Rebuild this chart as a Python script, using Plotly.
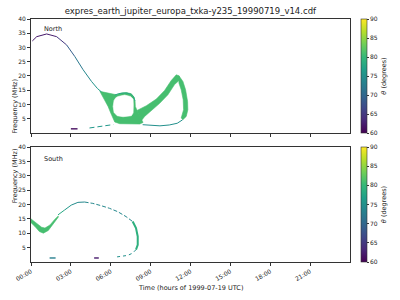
import plotly.graph_objects as go
from plotly.colors import sample_colorscale

# ---------------- text / ticks ----------------
TITLE = "expres_earth_jupiter_europa_txka-y235_19990719_v14.cdf"
X_LABEL = "Time (hours of 1999-07-19 UTC)"
Y_LABEL = "Frequency (MHz)"
CB_LABEL = "<i>θ</i> (degrees)"
x_tick_hours = [0, 3, 6, 9, 12, 15, 18, 21]
x_tick_labels = ["00:00", "03:00", "06:00", "09:00", "12:00", "15:00", "18:00", "21:00"]
y_ticks = [5, 10, 15, 20, 25, 30, 35, 40]
cb_ticks = [60, 65, 70, 75, 80, 85, 90]
THETA_MIN, THETA_MAX = 60, 90

# ---------------- North hemisphere (hours, MHz, theta deg) ----------------
north_arc_t = [0.1, 0.43, 1.18, 1.93, 2.68, 3.3, 3.92, 4.55, 5.0, 5.3]
north_arc_f = [32.3, 33.8, 34.75, 33.8, 30.9, 26.8, 22.2, 18.1, 15.6, 14.4]
north_arc_theta = [62, 62, 62, 63, 67, 71, 73, 75, 76, 77]

north_loop_t = [5.18, 5.93, 6.43, 6.8, 7.18, 7.55, 7.75, 7.83, 7.85, 7.98, 8.05,
                8.43, 8.18, 7.43, 6.68, 6.3, 6.18, 6.0, 5.8, 5.55, 5.3]
north_loop_f = [14.6, 13.76, 13.4, 14.0, 14.2, 13.76, 12.6, 11.1, 9.3, 7.9, 7.2,
                3.7, 3.14, 3.14, 3.25, 3.84, 4.9, 7.0, 9.3, 11.66, 13.76]
north_loop_theta = 81

north_hole_t = [6.55, 7.05, 7.48, 7.68, 7.7, 7.68, 7.55, 6.93, 6.48, 6.25, 6.18, 6.25, 6.38]
north_hole_f = [12.8, 13.3, 12.8, 11.9, 9.9, 7.0, 6.05, 5.7, 6.05, 7.2, 9.3, 11.4, 12.36]

north_rise_t = [7.98, 8.68, 9.43, 10.05, 10.55, 10.93, 11.13,
                11.18, 10.8, 10.3, 9.68, 9.05, 8.55, 8.3]
north_rise_f = [7.9, 9.56, 11.9, 14.9, 18.4, 20.4, 20.06,
                18.6, 17.0, 13.4, 10.4, 7.9, 5.8, 4.3]
north_fall_t = [11.13, 11.43, 11.63, 11.78, 11.8, 11.68, 11.43,
                11.3, 11.48, 11.45, 11.3, 11.13]
north_fall_f = [20.06, 18.1, 15.16, 11.07, 8.16, 5.82, 4.66,
                5.24, 8.16, 11.66, 15.16, 17.5]

north_ring_t = [6.3, 6.6, 6.9, 7.2, 7.5, 7.72, 7.82]
north_ring_f = [13.3, 13.8, 14.0, 14.0, 13.6, 12.7, 11.2]
north_ring_theta = 78

north_floor_left_t = [4.4, 5.0, 5.6, 6.2]
north_floor_left_f = [1.75, 2.1, 2.5, 2.95]
north_floor_left_theta = 76
north_floor_right_t = [8.4, 9.0, 9.7, 10.4, 11.0, 11.4]
north_floor_right_f = [2.9, 2.6, 2.5, 2.8, 3.4, 4.6]
north_floor_right_theta = 75
north_stub_t = [3.0, 3.5]
north_stub_f = [1.45, 1.45]
north_stub_theta = 61

# ---------------- South hemisphere ----------------
south_band_t = [0.0, 0.43, 0.8, 1.05, 1.43, 1.8, 2.05,
                2.05, 1.68, 1.3, 0.93, 0.63, 0.3, 0.0]
south_band_f = [15.0, 13.5, 12.1, 11.8, 12.9, 14.9, 16.0,
                15.6, 13.5, 10.96, 10.04, 10.6, 12.35, 13.7]
south_band_theta = 81

south_rise_t = [2.03, 2.53, 3.03, 3.53, 4.03]
south_rise_f = [16.4, 18.1, 19.8, 20.75, 20.87]
south_rise_theta = [79, 77, 75, 74, 74]
south_top_t = [4.03, 4.65, 5.28, 5.9, 6.53, 7.15, 7.65]
south_top_f = [20.87, 20.4, 19.6, 18.7, 17.5, 15.8, 14.07]
south_top_theta = 74
south_side_t = [7.65, 7.9, 8.03, 8.03, 7.9]
south_side_f = [14.07, 11.8, 8.9, 6.0, 4.3]
south_side_theta = 79
south_foot_t = [7.9, 7.65, 7.28, 6.9, 6.35]
south_foot_f = [4.3, 3.1, 2.3, 1.95, 1.7]
south_foot_theta = 75
south_stub1_t = [1.4, 1.85]
south_stub1_f = [1.4, 1.4]
south_stub1_theta = 73
south_stub2_t = [4.75, 5.1]
south_stub2_f = [1.4, 1.4]
south_stub2_theta = 62


def col(theta):
    return sample_colorscale("Viridis", [(theta - THETA_MIN) / (THETA_MAX - THETA_MIN)])[0]


fig = go.Figure()


def poly(t, f, color, ax):
    fig.add_trace(go.Scatter(x=t + t[:1], y=f + f[:1], mode="lines", fill="toself",
                             fillcolor=color, line=dict(color=color, width=0.6),
                             hoverinfo="skip", showlegend=False, xaxis="x" + ax, yaxis="y" + ax))


def line(t, f, color, ax, width=1.0, dash="solid"):
    fig.add_trace(go.Scatter(x=t, y=f, mode="lines", line=dict(color=color, width=width, dash=dash),
                             hoverinfo="skip", showlegend=False, xaxis="x" + ax, yaxis="y" + ax))


def graded(t, f, th, ax, width=1.0):
    for i in range(len(t) - 1):
        line(t[i:i + 2], f[i:i + 2], col((th[i] + th[i + 1]) / 2), ax, width)


# North
poly(north_loop_t, north_loop_f, col(north_loop_theta), "")
poly(north_hole_t, north_hole_f, "white", "")
poly(north_rise_t, north_rise_f, col(north_loop_theta), "")
poly(north_fall_t, north_fall_f, col(north_loop_theta), "")
line(north_ring_t, north_ring_f, col(north_ring_theta), "")
graded(north_arc_t, north_arc_f, north_arc_theta, "")
line(north_floor_left_t, north_floor_left_f, col(north_floor_left_theta), "", dash="5px,3px")
line(north_floor_right_t, north_floor_right_f, col(north_floor_right_theta), "")
line(north_stub_t, north_stub_f, col(north_stub_theta), "", width=1.4)

# South
poly(south_band_t, south_band_f, col(south_band_theta), "2")
graded(south_rise_t, south_rise_f, south_rise_theta, "2")
line(south_top_t, south_top_f, col(south_top_theta), "2", dash="4px,2px")
line(south_side_t, south_side_f, col(south_side_theta), "2", width=2.0)
line(south_foot_t, south_foot_f, col(south_foot_theta), "2", dash="3px,3px")
line(south_stub1_t, south_stub1_f, col(south_stub1_theta), "2", width=1.4)
line(south_stub2_t, south_stub2_f, col(south_stub2_theta), "2", width=1.4)

TXT = "#222222"
FONT = "DejaVu Sans"


def cbar(y, yanchor, length):
    return dict(x=1.0345, xanchor="left", y=y, yanchor=yanchor, len=length, lenmode="fraction",
                thickness=6, xpad=0, ypad=0, outlinewidth=0.6, outlinecolor="#333333",
                tickvals=cb_ticks, ticks="outside", ticklen=2, tickwidth=0.6, tickcolor="#333333",
                tickfont=dict(size=6, color=TXT, family=FONT),
                title=dict(text=CB_LABEL, side="right", font=dict(size=6.5, color=TXT, family=FONT)))


for ax, y, ya, ln in [("", 1.0, "top", 0.469), ("2", 0.0, "bottom", 0.473)]:
    fig.add_trace(go.Scatter(x=[None, None], y=[None, None], mode="markers",
                             marker=dict(color=[THETA_MIN, THETA_MAX], cmin=THETA_MIN, cmax=THETA_MAX,
                                         colorscale="Viridis", showscale=True, size=0.1,
                                         colorbar=cbar(y, ya, ln)),
                             hoverinfo="skip", showlegend=False, xaxis="x" + ax, yaxis="y" + ax))

axis_common = dict(showline=True, mirror=True, linecolor="#333333", linewidth=0.8,
                   ticks="outside", ticklen=3, tickwidth=0.7, tickcolor="#333333",
                   showgrid=False, zeroline=False,
                   tickfont=dict(size=6, color=TXT, family=FONT))

fig.update_layout(
    width=400, height=300,
    margin=dict(l=31, r=50, t=19, b=38),
    paper_bgcolor="white", plot_bgcolor="white",
    font=dict(family=FONT, color=TXT),
    title=dict(text=TITLE, x=0.476, xanchor="center", y=0.963, yanchor="middle",
               font=dict(size=8.5, color=TXT, family=FONT)),
    xaxis=dict(axis_common, domain=[0, 1], range=[0, 24], anchor="y",
               tickvals=x_tick_hours, ticktext=x_tick_labels, showticklabels=False),
    yaxis=dict(axis_common, domain=[0.531, 1.0], range=[0, 40], anchor="x", tickvals=y_ticks),
    xaxis2=dict(axis_common, domain=[0, 1], range=[0, 24], anchor="y2",
                tickvals=x_tick_hours, ticktext=x_tick_labels, tickangle=-30),
    yaxis2=dict(axis_common, domain=[0, 0.473], range=[0, 40], anchor="x2", tickvals=y_ticks),
    annotations=[
        dict(text="North", x=1.65, y=36.6, xref="x", yref="y", showarrow=False,
             font=dict(size=6.5, color=TXT, family=FONT)),
        dict(text="South", x=1.69, y=36.0, xref="x2", yref="y2", showarrow=False,
             font=dict(size=6.5, color=TXT, family=FONT)),
        dict(text=Y_LABEL, x=-0.069, y=0.765, xref="paper", yref="paper", textangle=-90,
             showarrow=False, font=dict(size=6.5, color=TXT, family=FONT)),
        dict(text=Y_LABEL, x=-0.069, y=0.236, xref="paper", yref="paper", textangle=-90,
             showarrow=False, font=dict(size=6.5, color=TXT, family=FONT)),
        dict(text=X_LABEL, x=0.5, y=-0.107, xref="paper", yref="paper", yanchor="middle",
             showarrow=False, font=dict(size=6.5, color=TXT, family=FONT)),
    ],
)

fig.write_html("out.html")
